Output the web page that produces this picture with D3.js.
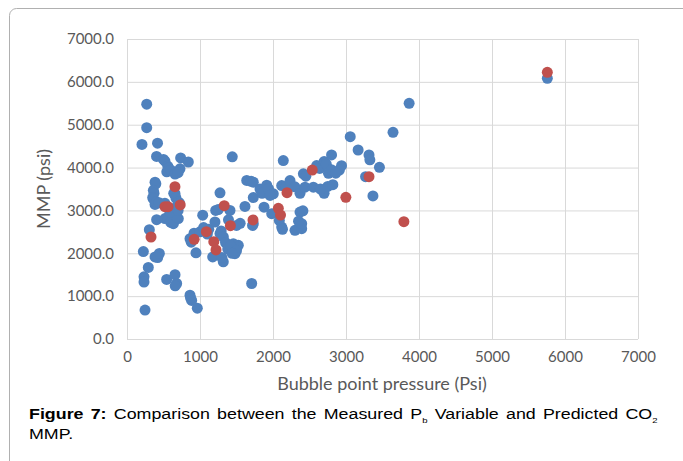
<!DOCTYPE html>
<html>
<head>
<meta charset="utf-8">
<script src="https://cdn.jsdelivr.net/npm/d3@7"></script>
<style>
  body { margin: 0; background: #fff; }
  .tick text { font-family: Lato, "Open Sans", sans-serif; fill: #595959; }
</style>
</head>
<body>
<div id="chart"></div>
<script>
// measured CO2 MMP vs bubble point pressure [Pb, MMP]
var measured = [
  [270,5480],[270,4930],[205,4540],[418,4570],[405,4260],[500,4190],[520,4150],[560,4030],[566,3990],[545,3900],
  [600,3940],[658,3850],[735,4225],[840,4130],[726,3970],[700,3880],[384,3660],[395,3620],[361,3470],[370,3400],
  [352,3300],[361,3270],[384,3140],[400,3200],[440,3180],[520,3165],[640,3400],[658,3390],[670,3290],[703,3194],
  [720,3170],[650,3050],[406,2785],[520,2810],[560,2830],[600,2720],[635,2690],[640,2740],[703,2810],[680,2850],
  [589,2960],[700,3000],[306,2550],[224,2040],[384,1915],[420,1900],[443,1995],[292,1670],[233,1450],[233,1330],
  [543,1390],[658,1500],[680,1295],[660,1240],[247,674],[863,1023],[886,900],[870,960],[963,720],[945,2010],
  [863,2340],[880,2260],[918,2470],[1000,2500],[1037,2890],[1050,2600],[1100,2450],[1120,2560],[1205,2730],[1215,3000],
  [1250,3020],[1274,3410],[1442,4250],[1174,1915],[1319,1800],[1300,1900],[1274,2460],[1290,2520],[1320,2380],[1350,2250],
  [1380,2100],[1411,3000],[1390,2780],[1479,1990],[1525,2186],[1456,2225],[1420,2180],[1500,2060],[1440,2000],[1550,2700],
  [1500,2650],[1616,3093],[1640,3700],[1700,3680],[1730,3660],[1708,1295],[1730,2690],[1720,2650],[1730,3300],[1822,3500],
  [1850,3400],[1914,3590],[1940,3500],[1877,3077],[2004,3388],[1960,3350],[1982,2923],[2141,4163],[2119,3581],[2180,3560],
  [2233,3698],[2300,3550],[2370,3400],[2087,2767],[2119,2612],[2130,2560],[2301,2535],[2393,2574],[2370,2961],[2410,2990],
  [2393,2690],[2350,2750],[2416,3853],[2450,3800],[2438,3543],[2553,3543],[2598,4047],[2640,3980],[2700,4140],[2730,4080],
  [2802,4294],[2760,3866],[2800,3950],[2700,3400],[2750,3560],[2820,3600],[2650,3500],[2939,4044],[2909,3943],[2860,3870],
  [3058,4721],[3166,4410],[3315,4294],[3327,4180],[3268,3788],[3369,3337],[3458,4006],[3644,4822],[3865,5499],[5758,6082]
];
// predicted CO2 MMP
var predicted = [
  [329,2380],[657,3554],[520,3088],[562,3088],[729,3127],[920,2326],[1087,2504],[1189,2271],[1219,2077],[1332,3111],
  [1416,2644],[1726,2777],[2073,3049],[2103,2893],[2192,3415],[2538,3943],[2998,3306],[3315,3788],[3793,2738],[5758,6222]
];
var xTicks = [0,1000,2000,3000,4000,5000,6000,7000];
var yTicks = [0,1000,2000,3000,4000,5000,6000,7000];

var width = 683, height = 461;
var margin = { top: 39, right: 45, bottom: 122, left: 127 };
var iw = width - margin.left - margin.right,
    ih = height - margin.top - margin.bottom;

var svg = d3.select("#chart").append("svg")
    .attr("width", width)
    .attr("height", height);

// frame round the figure
svg.append("rect")
    .attr("x", 9.5).attr("y", 8.5)
    .attr("width", 720).attr("height", 520)
    .attr("rx", 7)
    .style("fill", "none")
    .style("stroke", "#b0b0b0");

var g = svg.append("g")
    .attr("transform", "translate(" + margin.left + "," + margin.top + ")");

var x = d3.scaleLinear().domain([0, 7000]).range([0, iw]);
var y = d3.scaleLinear().domain([0, 7000]).range([ih, 0]);

// gridlines
g.append("g")
  .call(d3.axisLeft(y).tickValues(yTicks).tickSize(-iw).tickFormat(""))
  .call(function(a) { a.select(".domain").remove(); })
  .selectAll("line").style("stroke", "#d9d9d9");
g.append("g")
  .attr("transform", "translate(0," + ih + ")")
  .call(d3.axisBottom(x).tickValues(xTicks).tickSize(-ih).tickFormat(""))
  .call(function(a) { a.select(".domain").remove(); })
  .selectAll("line").style("stroke", "#d9d9d9");

// tick labels
var yAxis = g.append("g")
  .call(d3.axisLeft(y).tickValues(yTicks).tickSize(0).tickPadding(13).tickFormat(d3.format(".1f")));
yAxis.select(".domain").remove();
yAxis.selectAll("text").style("font-size", "15px");

var xAxis = g.append("g")
  .attr("transform", "translate(0," + ih + ")")
  .call(d3.axisBottom(x).tickValues(xTicks).tickSize(0).tickPadding(12).tickFormat(d3.format("d")));
xAxis.select(".domain").remove();
xAxis.selectAll("text").style("font-size", "15px");

// axis titles
svg.append("text")
    .attr("transform", "translate(50,189) rotate(-90)")
    .style("text-anchor", "middle")
    .style("font-family", "Lato, 'Open Sans', sans-serif")
    .style("font-size", "18px")
    .style("fill", "#595959")
    .text("MMP (psi)");

svg.append("text")
    .attr("x", 382).attr("y", 390)
    .style("text-anchor", "middle")
    .style("font-family", "Lato, 'Open Sans', sans-serif")
    .style("font-size", "18px")
    .style("fill", "#595959")
    .text("Bubble point pressure (Psi)");

// points
g.selectAll(".measured")
  .data(measured)
  .enter().append("circle")
    .attr("class", "measured")
    .attr("cx", function(d) { return x(d[0]); })
    .attr("cy", function(d) { return y(d[1]); })
    .attr("r", 5.5)
    .style("fill", "#4f81bd");

g.selectAll(".predicted")
  .data(predicted)
  .enter().append("circle")
    .attr("class", "predicted")
    .attr("cx", function(d) { return x(d[0]); })
    .attr("cy", function(d) { return y(d[1]); })
    .attr("r", 5.5)
    .style("fill", "#c0504d");

// caption (text is a bit wide, so stretch it horizontally; first line justified)
var capG = svg.append("g")
    .attr("transform", "translate(29,0) scale(1.19,1)")
    .style("font-family", "'Liberation Sans', Arial, sans-serif")
    .style("font-size", "15px")
    .style("fill", "#000");

var cap = capG.append("text")
    .attr("x", 0).attr("y", 419)
    .style("word-spacing", "1.9px");
cap.append("tspan").style("font-weight", "bold").text("Figure 7:");
cap.append("tspan").text(" Comparison between the Measured P");
cap.append("tspan").attr("dy", 4).style("font-size", "8px").text("b");
cap.append("tspan").attr("dy", -4).text(" Variable and Predicted CO");
cap.append("tspan").attr("dy", 4).style("font-size", "8px").text("2");

capG.append("text")
    .attr("x", 0).attr("y", 439)
    .text("MMP.");
</script>
</body>
</html>
